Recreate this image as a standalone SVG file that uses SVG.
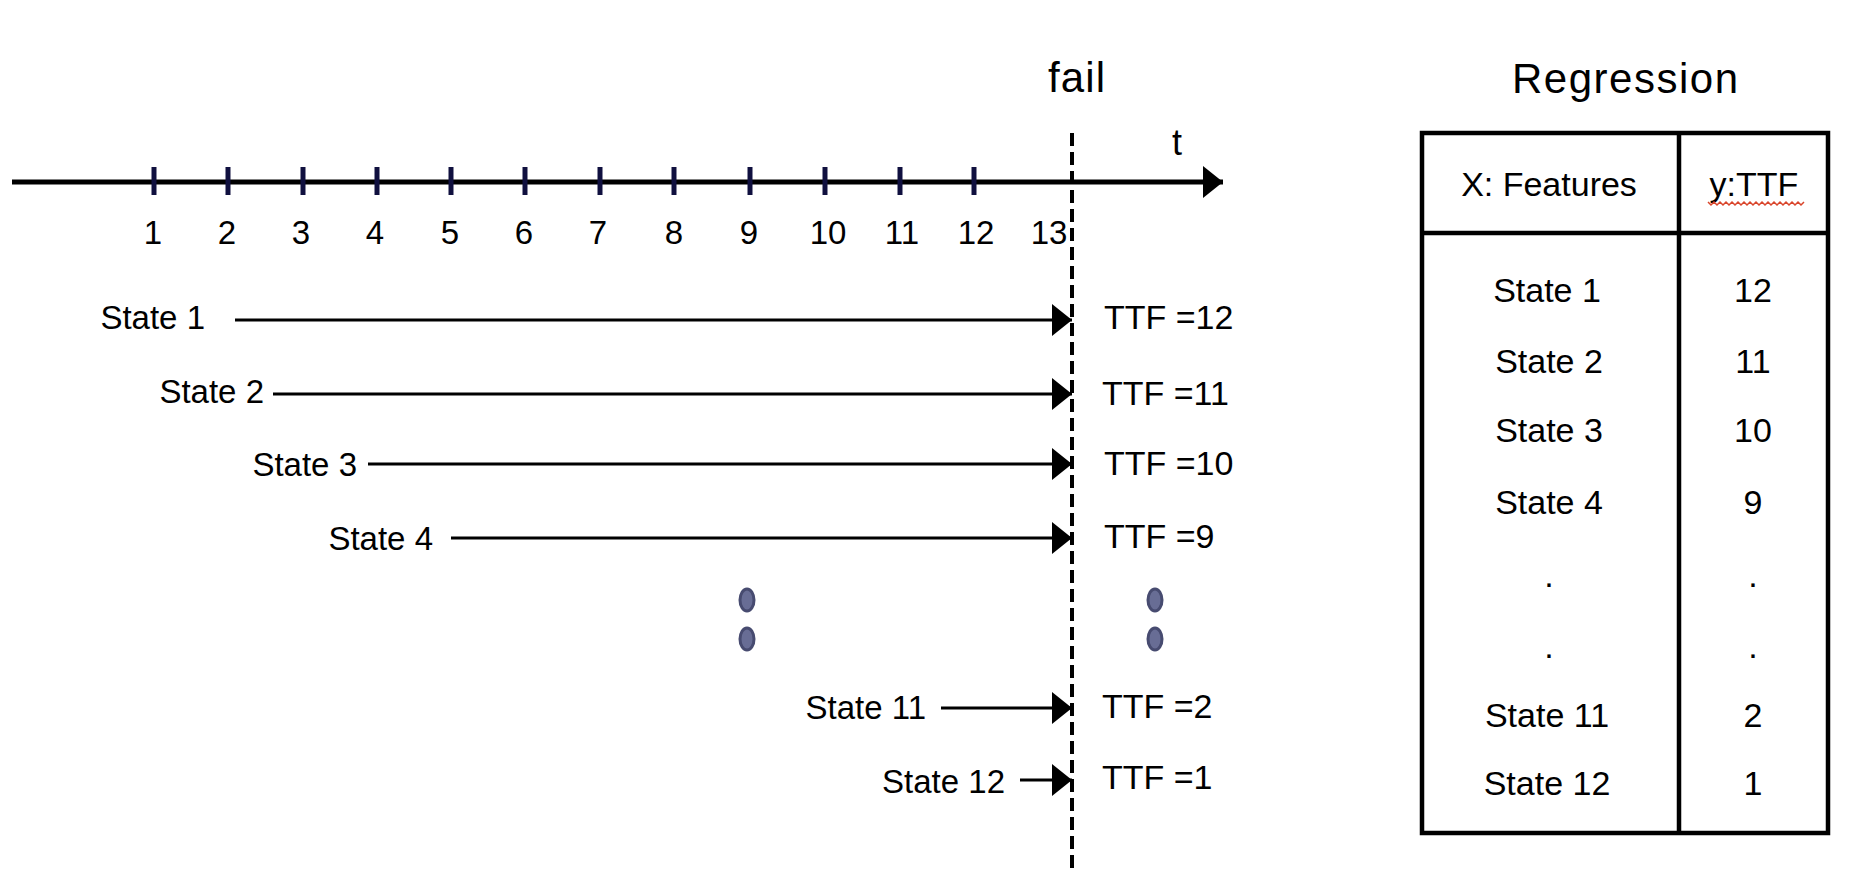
<svg xmlns="http://www.w3.org/2000/svg" width="1864" height="890" viewBox="0 0 1864 890">
<defs>
<style>
text{font-family:"Liberation Sans",Arial,sans-serif;fill:#000}
.lbl{font-size:33px}
.tick{stroke:#10103f;stroke-width:5}
.tl{font-size:33px;text-anchor:middle}
.arr{stroke:#000;stroke-width:3;fill:none;marker-end:url(#ah)}
.ttf{font-size:34px}
.cell{font-size:34px;text-anchor:middle}
.dot{fill:#686d95;stroke:#474b70;stroke-width:3}
</style>
<marker id="ah" viewBox="0 0 20 32" markerWidth="20" markerHeight="32" refX="20" refY="16" markerUnits="userSpaceOnUse" orient="auto">
<path d="M0,0 L20,16 L0,32 Z" fill="#000"/>
</marker>
</defs>
<rect width="1864" height="890" fill="#fff"/>

<g id="axis">
<line x1="12" y1="182" x2="1223" y2="182" stroke="#000" stroke-width="5" marker-end="url(#ah)"/>
<g id="ticks">
<line class="tick" x1="154" y1="167" x2="154" y2="195"/>
<line class="tick" x1="228" y1="167" x2="228" y2="195"/>
<line class="tick" x1="303" y1="167" x2="303" y2="195"/>
<line class="tick" x1="377" y1="167" x2="377" y2="195"/>
<line class="tick" x1="451" y1="167" x2="451" y2="195"/>
<line class="tick" x1="525" y1="167" x2="525" y2="195"/>
<line class="tick" x1="600" y1="167" x2="600" y2="195"/>
<line class="tick" x1="674" y1="167" x2="674" y2="195"/>
<line class="tick" x1="750" y1="167" x2="750" y2="195"/>
<line class="tick" x1="825" y1="167" x2="825" y2="195"/>
<line class="tick" x1="900" y1="167" x2="900" y2="195"/>
<line class="tick" x1="974" y1="167" x2="974" y2="195"/>
</g>
<g id="tick-labels">
<text class="tl" x="153" y="244">1</text>
<text class="tl" x="227" y="244">2</text>
<text class="tl" x="301" y="244">3</text>
<text class="tl" x="375" y="244">4</text>
<text class="tl" x="450" y="244">5</text>
<text class="tl" x="524" y="244">6</text>
<text class="tl" x="598" y="244">7</text>
<text class="tl" x="674" y="244">8</text>
<text class="tl" x="749" y="244">9</text>
<text class="tl" x="828" y="244">10</text>
<text class="tl" x="902" y="244">11</text>
<text class="tl" x="976" y="244">12</text>
<text class="tl" x="1049" y="244">13</text>
</g>
<text x="1172" y="155" font-size="36">t</text>
</g>

<g id="fail">
<text x="1048" y="92" font-size="42" textLength="57">fail</text>
<line x1="1072" y1="133" x2="1072" y2="870" stroke="#000" stroke-width="4" stroke-dasharray="13 6"/>
</g>

<g id="state-labels">
<text class="lbl" x="205" y="329" text-anchor="end">State 1</text>
<text class="lbl" x="264" y="403" text-anchor="end">State 2</text>
<text class="lbl" x="357" y="476" text-anchor="end">State 3</text>
<text class="lbl" x="433" y="550" text-anchor="end">State 4</text>
<text class="lbl" x="926" y="719" text-anchor="end">State 11</text>
<text class="lbl" x="1005" y="793" text-anchor="end">State 12</text>
</g>

<g id="connectors">
<line class="arr" x1="235" y1="320" x2="1072" y2="320"/>
<line class="arr" x1="273" y1="394" x2="1072" y2="394"/>
<line class="arr" x1="368" y1="464" x2="1072" y2="464"/>
<line class="arr" x1="451" y1="538" x2="1072" y2="538"/>
<line class="arr" x1="941" y1="708" x2="1072" y2="708"/>
<line class="arr" x1="1020" y1="780" x2="1072" y2="780"/>
</g>

<g id="ttf-labels">
<text class="ttf" x="1104" y="329">TTF =12</text>
<text class="ttf" x="1102" y="405">TTF =11</text>
<text class="ttf" x="1104" y="475">TTF =10</text>
<text class="ttf" x="1104" y="548">TTF =9</text>
<text class="ttf" x="1102" y="718">TTF =2</text>
<text class="ttf" x="1102" y="789">TTF =1</text>
</g>

<g id="ellipsis-dots">
<ellipse class="dot" cx="747" cy="600" rx="7" ry="11"/>
<ellipse class="dot" cx="747" cy="639" rx="7" ry="11"/>
<ellipse class="dot" cx="1155" cy="600" rx="7" ry="11"/>
<ellipse class="dot" cx="1155" cy="639" rx="7" ry="11"/>
</g>

<g id="regression-table">
<text x="1625" y="93" font-size="42" text-anchor="middle" textLength="226">Regression</text>
<rect x="1422" y="133" width="406" height="700" fill="none" stroke="#000" stroke-width="4.5"/>
<line x1="1679" y1="133" x2="1679" y2="833" stroke="#000" stroke-width="4.5"/>
<line x1="1422" y1="233" x2="1828" y2="233" stroke="#000" stroke-width="4.5"/>
<text class="cell" x="1549" y="196" font-size="35">X: Features</text>
<text class="cell" x="1754" y="196" font-size="35">y:TTF</text>
<polyline points="1708,202 1711,205 1714,202 1717,205 1720,202 1723,205 1726,202 1729,205 1732,202 1735,205 1738,202 1741,205 1744,202 1747,205 1750,202 1753,205 1756,202 1759,205 1762,202 1765,205 1768,202 1771,205 1774,202 1777,205 1780,202 1783,205 1786,202 1789,205 1792,202 1795,205 1798,202 1801,205 1804,202" fill="none" stroke="#d9452b" stroke-width="1.5"/>
<text class="cell" x="1547" y="302">State 1</text>
<text class="cell" x="1753" y="302">12</text>
<text class="cell" x="1549" y="373">State 2</text>
<text class="cell" x="1753" y="373">11</text>
<text class="cell" x="1549" y="442">State 3</text>
<text class="cell" x="1753" y="442">10</text>
<text class="cell" x="1549" y="514">State 4</text>
<text class="cell" x="1753" y="514">9</text>
<text class="cell" x="1549" y="587">.</text>
<text class="cell" x="1753" y="587">.</text>
<text class="cell" x="1549" y="658">.</text>
<text class="cell" x="1753" y="658">.</text>
<text class="cell" x="1547" y="727">State 11</text>
<text class="cell" x="1753" y="727">2</text>
<text class="cell" x="1547" y="795">State 12</text>
<text class="cell" x="1753" y="795">1</text>
</g>
</svg>
